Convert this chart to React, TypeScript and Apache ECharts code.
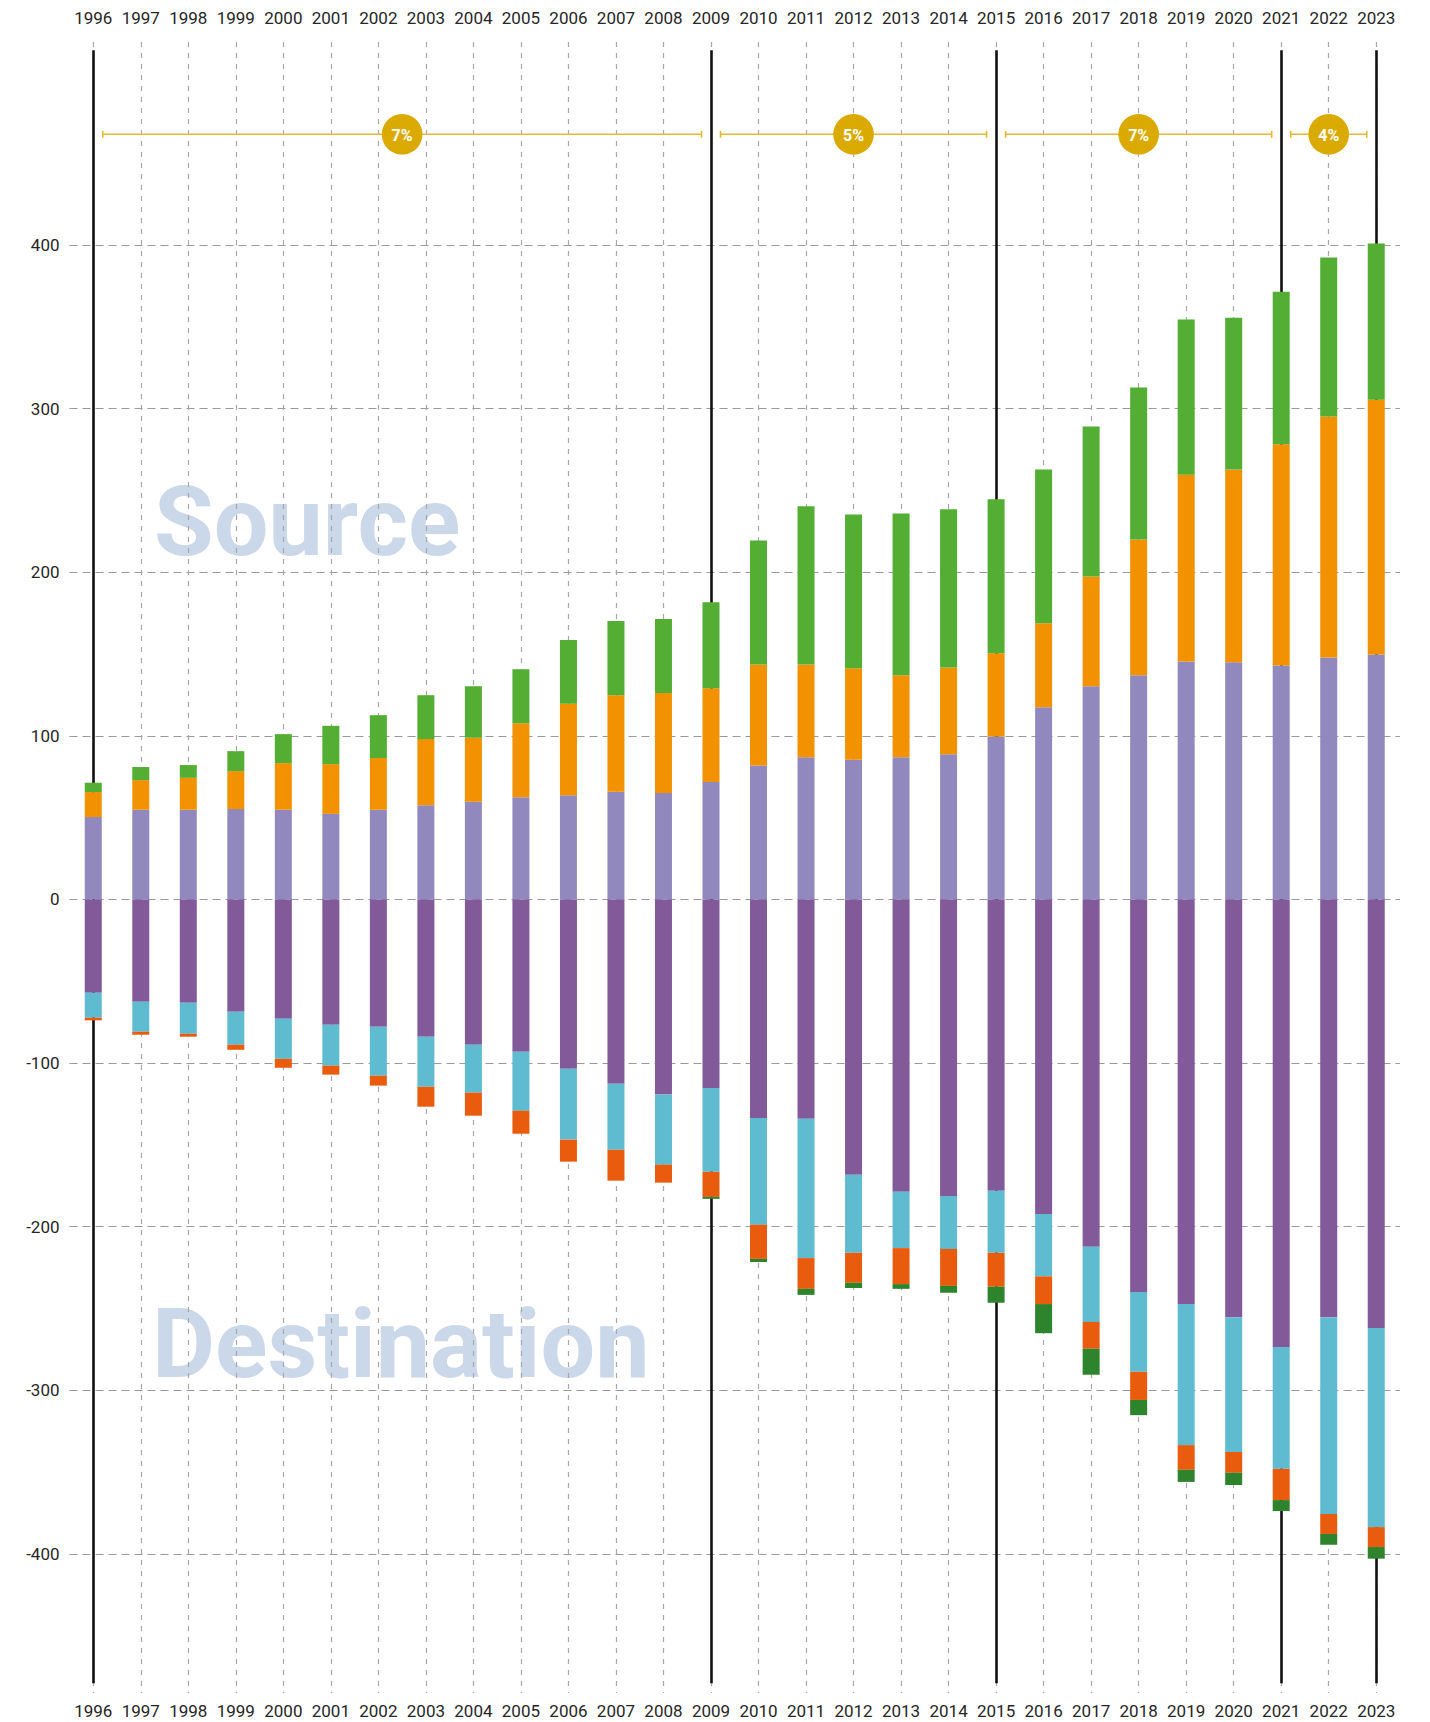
import React, { useEffect, useRef } from "react";
import * as echarts from "echarts";

const years = [
  "1996", "1997", "1998", "1999", "2000", "2001", "2002", "2003", "2004", "2005",
  "2006", "2007", "2008", "2009", "2010", "2011", "2012", "2013", "2014", "2015",
  "2016", "2017", "2018", "2019", "2020", "2021", "2022", "2023",
];

// Source (positive) segments
const source1 = [50.3, 54.8, 54.8, 55.2, 54.8, 52.3, 54.8, 57.6, 59.7, 62.5, 63.7, 65.8, 65.0, 71.7, 81.9, 86.9, 85.3, 86.9, 88.7, 99.6, 117.4, 130.3, 137.0, 145.4, 144.9, 143.0, 147.8, 149.7];
const source2 = [15.3, 18.1, 19.5, 23.2, 28.5, 30.4, 31.6, 40.4, 39.1, 45.2, 55.9, 59.0, 61.1, 57.4, 61.7, 56.7, 55.9, 50.1, 53.0, 50.9, 51.3, 67.1, 82.9, 114.2, 117.9, 135.1, 147.3, 155.7];
const source3 = [5.7, 8.0, 7.8, 12.2, 17.7, 23.4, 26.2, 26.8, 31.5, 33.0, 38.9, 45.3, 45.2, 52.5, 75.7, 96.7, 94.0, 98.8, 96.7, 94.0, 94.1, 91.6, 92.9, 94.8, 92.7, 93.3, 97.2, 95.4];

// Destination (negative) segments
const dest1 = [-57.0, -62.5, -63.1, -68.6, -72.9, -76.6, -77.8, -83.9, -88.8, -93.1, -103.5, -112.6, -119.3, -115.2, -133.6, -134.1, -168.3, -178.7, -181.3, -178.1, -192.2, -212.3, -239.9, -247.3, -255.3, -273.6, -255.3, -261.9];
const dest2 = [-15.3, -18.4, -19.0, -20.2, -24.5, -25.0, -29.9, -30.6, -29.3, -36.0, -43.3, -40.4, -42.8, -51.3, -65.2, -85.1, -47.7, -34.4, -32.3, -37.9, -38.2, -45.9, -48.8, -86.2, -82.4, -74.4, -120.3, -121.7];
const dest3 = [-1.6, -1.8, -1.8, -3.1, -5.5, -5.5, -6.1, -12.2, -14.1, -14.1, -13.5, -18.9, -11.0, -15.3, -20.9, -18.8, -18.3, -22.0, -22.6, -20.7, -16.9, -16.4, -17.2, -15.1, -12.7, -19.1, -12.2, -12.2];
const dest4 = [0, 0, 0, 0, 0, 0, 0, 0, 0, 0, 0, 0, 0, -1.2, -1.9, -3.7, -3.2, -2.9, -4.2, -9.8, -17.8, -15.9, -9.3, -7.4, -7.5, -6.7, -6.6, -7.1];

const yTicks = [-400, -300, -200, -100, 0, 100, 200, 300, 400];

const periodBoundaries = ["1996", "2009", "2015", "2021", "2023"];
const growthPeriods = [
  { from: "1996", to: "2009", rate: 7 },
  { from: "2009", to: "2015", rate: 5 },
  { from: "2015", to: "2021", rate: 7 },
  { from: "2021", to: "2023", rate: 4 },
];

const FONT = "Roboto, 'Noto Sans', sans-serif";
const Y_MIN = -485;
const Y_MAX = 524;
const BOUNDARY_TOP = 519;
const BOUNDARY_BOTTOM = -479;
const GROWTH_Y = 467.6;

export default function App() {
  const ref = useRef<HTMLDivElement>(null);

  useEffect(() => {
    document.body.style.margin = "0";
    const chart = echarts.init(ref.current!, null, { renderer: "svg" });

    const bar = (name: string, data: number[], color: string) => ({
      name,
      type: "bar",
      stack: "total",
      barWidth: 17,
      data,
      z: 3,
      itemStyle: { color },
    });

    const growthData = growthPeriods.map((p) => [
      years.indexOf(p.from),
      years.indexOf(p.to),
      p.rate,
    ]);

    const option: any = {
      animation: false,
      backgroundColor: "#ffffff",
      textStyle: { fontFamily: FONT },
      grid: { left: 69.5, right: 30, top: 42, bottom: 29, containLabel: false },
      xAxis: [
        {
          type: "category",
          data: years,
          position: "bottom",
          boundaryGap: true,
          axisLine: { show: false },
          axisTick: { show: false },
          axisLabel: { interval: 0, margin: 9, fontSize: 17, color: "#262626", fontFamily: FONT },
          splitLine: {
            show: true,
            interval: 0,
            alignWithLabel: true,
            lineStyle: { color: "#a8a8a8", width: 1.2, type: [5, 6] },
          },
        },
        {
          type: "category",
          data: years,
          position: "top",
          boundaryGap: true,
          axisLine: { show: false },
          axisTick: { show: false },
          axisLabel: { interval: 0, margin: 16, fontSize: 17, color: "#262626", fontFamily: FONT },
          splitLine: { show: false },
        },
      ],
      yAxis: {
        type: "value",
        min: Y_MIN,
        max: Y_MAX,
        axisLine: { show: false },
        axisTick: { show: false, customValues: yTicks },
        axisLabel: { customValues: yTicks, margin: 10, fontSize: 17, color: "#262626", fontFamily: FONT },
        splitLine: { show: true, lineStyle: { color: "#9a9a9a", width: 1.2, type: [8, 5] } },
      },
      graphic: [
        {
          type: "text",
          z: -10,
          silent: true,
          style: {
            text: "Source",
            x: 154,
            y: 522,
            fill: "#cad8ea",
            font: `bold 97px ${FONT}`,
            verticalAlign: "middle",
          },
        },
        {
          type: "text",
          z: -10,
          silent: true,
          style: {
            text: "Destination",
            x: 152,
            y: 1344,
            fill: "#cad8ea",
            font: `bold 97px ${FONT}`,
            verticalAlign: "middle",
          },
        },
      ],
      series: [
        {
          name: "boundaries",
          type: "line",
          data: [],
          z: 1,
          silent: true,
          markLine: {
            z: 1,
            silent: true,
            symbol: ["none", "none"],
            label: { show: false },
            lineStyle: { color: "#111111", width: 2.6, type: "solid" },
            data: periodBoundaries.map((y) => [
              { coord: [y, BOUNDARY_TOP] },
              { coord: [y, BOUNDARY_BOTTOM] },
            ]),
          },
        },
        bar("Source 1", source1, "#9189be"),
        bar("Source 2", source2, "#f29200"),
        bar("Source 3", source3, "#53ae33"),
        bar("Destination 1", dest1, "#825a99"),
        bar("Destination 2", dest2, "#5ebbd0"),
        bar("Destination 3", dest3, "#ea5c0d"),
        bar("Destination 4", dest4, "#2e842c"),
        {
          name: "growth",
          type: "custom",
          z: 5,
          silent: true,
          data: growthData,
          encode: { x: 0 },
          renderItem: (params: any, api: any) => {
            const s = api.coord([api.value(0), GROWTH_Y]);
            const e = api.coord([api.value(1), GROWTH_Y]);
            const rate = api.value(2);
            const x0 = s[0] + 9.5;
            const x1 = e[0] - 9.5;
            const y = s[1];
            const cx = (s[0] + e[0]) / 2;
            const lineStyle = { stroke: "#e8b833", lineWidth: 1.6 };
            return {
              type: "group",
              children: [
                { type: "line", shape: { x1: x0, y1: y, x2: x1, y2: y }, style: lineStyle },
                { type: "line", shape: { x1: x0, y1: y - 3.5, x2: x0, y2: y + 3.5 }, style: lineStyle },
                { type: "line", shape: { x1: x1, y1: y - 3.5, x2: x1, y2: y + 3.5 }, style: lineStyle },
                { type: "circle", shape: { cx, cy: y, r: 20.3 }, style: { fill: "#daaa00" } },
                {
                  type: "text",
                  style: {
                    text: `${rate}%`,
                    x: cx,
                    y: y + 1,
                    fill: "#ffffff",
                    font: `bold 16px ${FONT}`,
                    align: "center",
                    verticalAlign: "middle",
                  },
                },
              ],
            };
          },
        },
      ],
    };

    chart.setOption(option);
    return () => chart.dispose();
  }, []);

  return (
    <div
      ref={ref}
      style={{ position: "absolute", left: 0, top: 0, width: 1430, height: 1722 }}
    />
  );
}
